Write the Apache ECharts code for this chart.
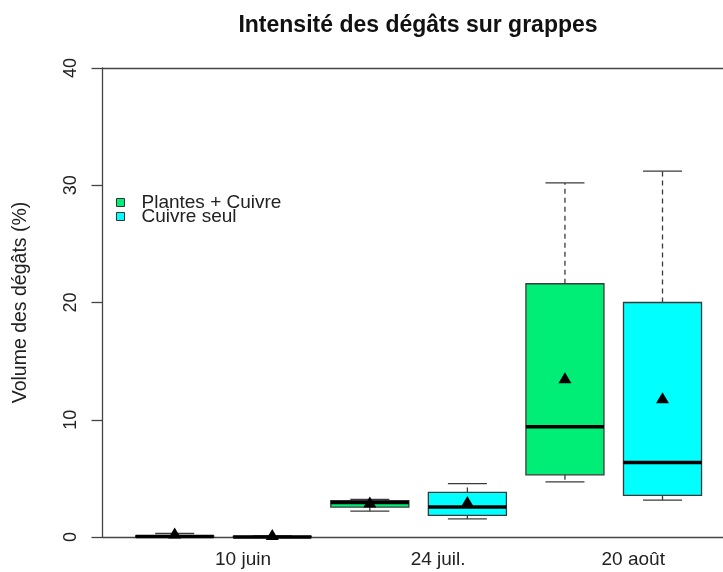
<!DOCTYPE html>
<html><head><meta charset="utf-8">
<script src="https://cdn.jsdelivr.net/npm/echarts@6/dist/echarts.min.js"></script>
<style>html,body{margin:0;padding:0;background:#fff}#c{width:723px;height:572px}</style>
</head><body><div id="c"></div>
<script>
// ---- data ----
const categories = ['10 juin', '24 juil.', '20 août'];
const seriesNames = ['Plantes + Cuivre', 'Cuivre seul'];
// each box: [min, Q1, median, Q3, max]
const plantesCuivreBoxes = [
  [0, 0, 0.05, 0.1, 0.3],
  [2.2, 2.55, 2.95, 3.1, 3.2],
  [4.7, 5.3, 9.4, 21.6, 30.2]
];
const plantesCuivreMeans = [0.25, 2.9, 13.5];
const cuivreSeulBoxes = [
  [0, 0, 0, 0.05, 0.1],
  [1.55, 1.85, 2.55, 3.8, 4.55],
  [3.15, 3.55, 6.35, 20.0, 31.2]
];
const cuivreSeulMeans = [0.12, 2.95, 11.8];
const yTickValues = [0, 10, 20, 30, 40];

// ---- build chart ----
const FONT = 'Liberation Sans, Arial, sans-serif';
const colors = ['#00EE76', '#00FFFF'];
const lineCol = '#3a3a3a';

// box i of series s sits at position 2*i + 1 + s (R boxplot positions 1..6)
function toRows(boxes, means, s) {
  return boxes.map((b, i) => [2 * i + 1 + s].concat(b, [means[i]]));
}
const labelPos = categories.map((c, i) => 2 * i + 1.7);

function renderBox(params, api) {
  const x = api.value(0);
  const mn = api.value(1), q1 = api.value(2), md = api.value(3),
        q3 = api.value(4), mx = api.value(5), mean = api.value(6);
  const half = 0.4, st = 0.2;
  const tl = api.coord([x - half, q3]);
  const br = api.coord([x + half, q1]);
  const cTop = api.coord([x, q3]), cMax = api.coord([x, mx]);
  const cBot = api.coord([x, q1]), cMin = api.coord([x, mn]);
  const sMaxL = api.coord([x - st, mx]), sMaxR = api.coord([x + st, mx]);
  const sMinL = api.coord([x - st, mn]), sMinR = api.coord([x + st, mn]);
  const mL = api.coord([x - half, md]), mR = api.coord([x + half, md]);
  const mc = api.coord([x, mean]);
  const color = api.visual('color');
  const wStyle = { stroke: lineCol, lineWidth: 1.3, lineDash: [5, 4] };
  const sStyle = { stroke: lineCol, lineWidth: 1.3 };
  return {
    type: 'group',
    children: [
      { type: 'line', shape: { x1: cTop[0], y1: cTop[1], x2: cMax[0], y2: cMax[1] }, style: wStyle },
      { type: 'line', shape: { x1: cBot[0], y1: cBot[1], x2: cMin[0], y2: cMin[1] }, style: wStyle },
      { type: 'line', shape: { x1: sMaxL[0], y1: sMaxL[1], x2: sMaxR[0], y2: sMaxR[1] }, style: sStyle },
      { type: 'line', shape: { x1: sMinL[0], y1: sMinL[1], x2: sMinR[0], y2: sMinR[1] }, style: sStyle },
      { type: 'rect', shape: { x: tl[0], y: tl[1], width: br[0] - tl[0], height: br[1] - tl[1] },
        style: { fill: color, stroke: lineCol, lineWidth: 1.3 } },
      { type: 'line', shape: { x1: mL[0], y1: mL[1], x2: mR[0], y2: mR[1] },
        style: { stroke: '#000', lineWidth: 3.5 } },
      { type: 'polygon', shape: { points: [[mc[0] - 6.5, mc[1] + 4.5], [mc[0] + 6.5, mc[1] + 4.5], [mc[0], mc[1] - 6.5]] },
        style: { fill: '#000' } }
    ]
  };
}

const chart = echarts.init(document.getElementById('c'), null, { renderer: 'canvas' });
const axisLine = { show: true, lineStyle: { color: '#444', width: 1.3 } };
chart.setOption({
  animation: false,
  backgroundColor: '#fff',
  textStyle: { fontFamily: FONT },
  title: {
    text: 'Intensité des dégâts sur grappes',
    left: 418, top: 14, textAlign: 'center', padding: 0,
    textStyle: { fontFamily: FONT, fontWeight: 'bold', fontSize: 23, color: '#111' }
  },
  legend: {
    orient: 'vertical', left: 116, top: 193, padding: 0, itemGap: -5,
    itemWidth: 8, itemHeight: 8, icon: 'rect',
    textStyle: { fontFamily: FONT, fontSize: 19, color: '#222', padding: [0, 0, 0, 12] },
    data: seriesNames.map((n, i) => ({ name: n, itemStyle: { color: colors[i], borderColor: '#333', borderWidth: 1 } }))
  },
  grid: { left: 102.5, right: 0, top: 68, bottom: 35, containLabel: false },
  xAxis: [
    {
      type: 'value', min: 0.26, max: 6.62, position: 'bottom',
      axisLine: axisLine, axisTick: { show: false }, splitLine: { show: false },
      axisLabel: {
        customValues: labelPos, margin: 13, fontSize: 19, color: '#222', fontFamily: FONT,
        formatter: function (v) {
          let best = 0;
          labelPos.forEach((p, i) => { if (Math.abs(p - v) < Math.abs(labelPos[best] - v)) best = i; });
          return categories[best];
        }
      }
    },
    {
      type: 'value', min: 0.26, max: 6.62, position: 'top',
      axisLine: axisLine, axisTick: { show: false }, axisLabel: { show: false }, splitLine: { show: false }
    }
  ],
  yAxis: {
    type: 'value', min: yTickValues[0], max: yTickValues[yTickValues.length - 1], interval: 10,
    axisLine: axisLine,
    axisTick: { show: true, length: 11, lineStyle: { color: '#444', width: 1.3 } },
    splitLine: { show: false },
    axisLabel: { rotate: 90, margin: 22, fontSize: 18, color: '#222', fontFamily: FONT },
    name: 'Volume des dégâts (%)', nameLocation: 'middle', nameRotate: 90, nameGap: 72,
    nameTextStyle: { fontSize: 19.5, color: '#222', fontFamily: FONT }
  },
  series: [
    {
      name: seriesNames[0], type: 'custom', renderItem: renderBox, itemStyle: { color: colors[0] },
      encode: { x: 0, y: [1, 2, 3, 4, 5, 6] },
      data: toRows(plantesCuivreBoxes, plantesCuivreMeans, 0)
    },
    {
      name: seriesNames[1], type: 'custom', renderItem: renderBox, itemStyle: { color: colors[1] },
      encode: { x: 0, y: [1, 2, 3, 4, 5, 6] },
      data: toRows(cuivreSeulBoxes, cuivreSeulMeans, 1)
    }
  ]
});
</script></body></html>
